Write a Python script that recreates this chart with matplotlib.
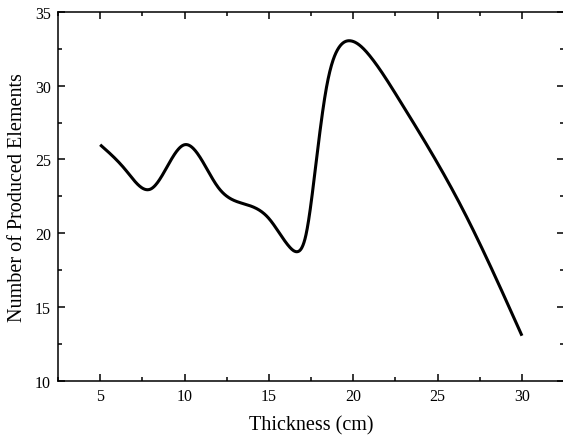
import numpy as np
import matplotlib
matplotlib.use('Agg')
import matplotlib.pyplot as plt
from matplotlib.ticker import MultipleLocator

# Points
thickness = [5.0, 6.5, 8.0, 10.0, 12.0, 13.5, 15.0, 16.2, 16.7, 17.2,
             17.8, 18.4, 19.1, 19.8, 21.0, 22.7, 26.5, 30.0]
elements = [26.0, 24.3, 23.0, 26.0, 23.1, 22.0, 21.0, 19.1, 18.75, 19.9,
            24.8, 29.8, 32.5, 33.05, 32.0, 29.1, 21.6, 13.05]

x_ticks = [5, 10, 15, 20, 25, 30]
y_ticks = [10, 15, 20, 25, 30, 35]


def spline_line(x, y, n=50):
    """Natural cubic spline through the read points, only for drawing"""
    x = np.asarray(x, float)
    y = np.asarray(y, float)
    k = len(x)
    h = np.diff(x)
    A = np.zeros((k, k))
    b = np.zeros(k)
    A[0, 0] = A[-1, -1] = 1
    for i in range(1, k - 1):
        A[i, i - 1] = h[i - 1]
        A[i, i] = 2 * (h[i - 1] + h[i])
        A[i, i + 1] = h[i]
        b[i] = 6 * ((y[i + 1] - y[i]) / h[i] - (y[i] - y[i - 1]) / h[i - 1])
    M = np.linalg.solve(A, b)
    xs, ys = [], []
    for i in range(k - 1):
        t = np.linspace(x[i], x[i + 1], n, endpoint=False)
        a = (x[i + 1] - t) / h[i]
        c = (t - x[i]) / h[i]
        s = (a * y[i] + c * y[i + 1]
             + ((a**3 - a) * M[i] + (c**3 - c) * M[i + 1]) * h[i]**2 / 6)
        xs.append(t)
        ys.append(s)
    xs.append([x[-1]])
    ys.append([y[-1]])
    return np.concatenate(xs), np.concatenate(ys)


plt.rcParams['font.family'] = ['Liberation Serif', 'DejaVu Serif']

fig = plt.figure(figsize=(5.63, 4.39), dpi=100)
ax = fig.add_axes([0.103, 0.1305, 0.899, 0.8399])

sx, sy = spline_line(thickness, elements)
ax.plot(sx, sy, color='black', linewidth=2.2, solid_capstyle='butt')

ax.set_xlim(2.5, 32.5)
ax.set_ylim(10, 35)
ax.set_xticks(x_ticks)
ax.set_yticks(y_ticks)
ax.xaxis.set_minor_locator(MultipleLocator(2.5))
ax.yaxis.set_minor_locator(MultipleLocator(2.5))
ax.tick_params(which='both', direction='in', top=True, right=True,
               width=1.1, labelsize=11.5, pad=5)
ax.tick_params(which='major', length=5)
ax.tick_params(which='minor', length=3)
for s in ax.spines.values():
    s.set_linewidth(1.1)

ax.set_xlabel('Thickness (cm)', fontsize=14.5, labelpad=8)
ax.set_ylabel('Number of Produced Elements', fontsize=14.5, labelpad=6)

fig.savefig('out.png', dpi=100)
